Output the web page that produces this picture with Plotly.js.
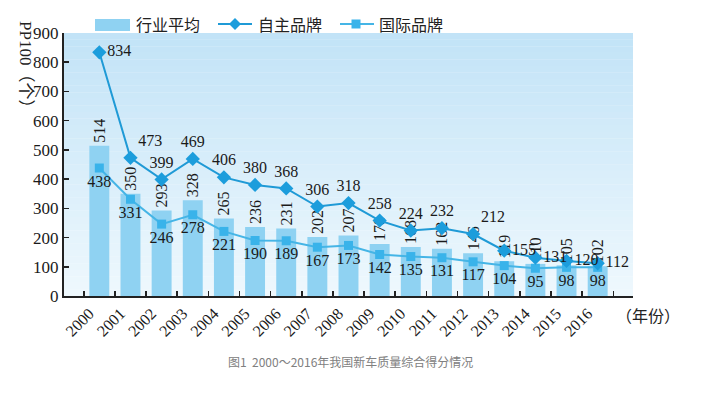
<!DOCTYPE html>
<html>
<head>
<meta charset="utf-8">
<script src="https://cdn.plot.ly/plotly-3.0.1.min.js"></script>
<style>html,body{margin:0;padding:0;background:#fff;}#chart{width:705px;height:394px;}</style>
</head>
<body>
<div id="chart"></div>
<script>
// ---- data ----
const years = ['2000','2001','2002','2003','2004','2005','2006','2007','2008','2009','2010','2011','2012','2013','2014','2015','2016'];
const industryAvg = [514,350,293,328,265,236,231,202,207,178,168,162,146,119,110,105,102];
const domesticBrands = [834,473,399,469,406,380,368,306,318,258,224,232,212,155,131,120,112];
const intlBrands = [438,331,246,278,221,190,189,167,173,142,135,131,117,104,95,98,98];
const seriesNames = ['行业平均','自主品牌','国际品牌'];

// ---- styling ----
const W = 705, H = 394;
const L = 64, R = 633, T = 33, B = 296;
const px = x => (x - L) / (R - L);
const py = y => (B - y) / (B - T);
const serif = 'Liberation Serif, Times New Roman, Noto Sans CJK SC, serif';
const cjk = 'Noto Sans CJK SC, sans-serif';
const barColor = '#8fd2f2';
const domColor = '#1f9ad6';
const intlColor = '#45b5e6';

const domPos = domesticBrands.map((v, i) => {
  if (i === 0) return 'middle right';
  if (i === 1 || i === 12) return 'top right';
  if (i >= 13) return 'middle right';
  return 'top center';
});

const traces = [
  {
    type: 'bar', x: years, y: industryAvg, name: seriesNames[0],
    marker: {color: barColor},
    width: 0.64,
    text: industryAvg.map(String), textposition: 'outside', textangle: -90,
    constraintext: 'none', cliponaxis: false,
    textfont: {family: serif, size: 16, color: '#1a1a1a'},
    showlegend: false, hoverinfo: 'x+y'
  },
  {
    type: 'scatter', mode: 'lines+markers+text', x: years, y: intlBrands, name: seriesNames[2],
    line: {color: intlColor, width: 2},
    marker: {symbol: 'square', size: 9, color: '#39b3ea'},
    text: intlBrands.map(String), textposition: 'bottom center', cliponaxis: false,
    textfont: {family: serif, size: 16, color: '#1a1a1a'},
    showlegend: false
  },
  {
    type: 'scatter', mode: 'lines+markers+text', x: years, y: domesticBrands, name: seriesNames[1],
    line: {color: domColor, width: 2},
    marker: {symbol: 'diamond', size: 11, color: '#1c9ddc'},
    text: domesticBrands.map(String), textposition: domPos, cliponaxis: false,
    textfont: {family: serif, size: 16, color: '#1a1a1a'},
    showlegend: false
  }
];

// gradient background bands
const shapes = [];
const N = 40;
const c0 = [194, 227, 247], c1 = [238, 248, 253];
for (let i = 0; i < N; i++) {
  const t = i / (N - 1);
  const c = c0.map((v, k) => Math.round(v + (c1[k] - v) * t));
  shapes.push({
    type: 'rect', xref: 'paper', yref: 'paper', layer: 'below',
    x0: 0, x1: 1, y1: 1 - i / N, y0: 1 - (i + 1) / N - 0.001,
    fillcolor: `rgb(${c[0]},${c[1]},${c[2]})`, line: {width: 0}
  });
}
// legend swatches
shapes.push({type: 'rect', xref: 'paper', yref: 'paper', x0: px(95), x1: px(130), y0: py(31), y1: py(19),
  fillcolor: barColor, line: {width: 0}});
shapes.push({type: 'line', xref: 'paper', yref: 'paper', x0: px(218), x1: px(252), y0: py(24), y1: py(24),
  line: {color: domColor, width: 2}});
shapes.push({type: 'path', xref: 'paper', yref: 'paper', xsizemode: 'pixel', ysizemode: 'pixel',
  xanchor: px(235), yanchor: py(24), path: 'M0,6 L6,0 L0,-6 L-6,0 Z', fillcolor: '#1c9ddc', line: {width: 0}});
shapes.push({type: 'line', xref: 'paper', yref: 'paper', x0: px(340), x1: px(374), y0: py(24), y1: py(24),
  line: {color: intlColor, width: 2}});
shapes.push({type: 'path', xref: 'paper', yref: 'paper', xsizemode: 'pixel', ysizemode: 'pixel',
  xanchor: px(356), yanchor: py(24), path: 'M-4.5,-4.5 L4.5,-4.5 L4.5,4.5 L-4.5,4.5 Z', fillcolor: '#39b3ea', line: {width: 0}});

const annotations = [
  {text: seriesNames[0], x: px(134), y: py(24), xanchor: 'left', yanchor: 'middle'},
  {text: seriesNames[1], x: px(256), y: py(24), xanchor: 'left', yanchor: 'middle'},
  {text: seriesNames[2], x: px(377), y: py(24), xanchor: 'left', yanchor: 'middle'}
].map(a => Object.assign({xref: 'paper', yref: 'paper', showarrow: false, font: {family: cjk, size: 16, color: '#222'}}, a));

annotations.push({xref: 'paper', yref: 'paper', showarrow: false, text: 'PP100（个）', textangle: 90,
  x: px(26), y: py(68), xanchor: 'center', yanchor: 'middle', font: {family: serif, size: 17, color: '#222'}});
annotations.push({xref: 'paper', yref: 'paper', showarrow: false, text: '（年份）',
  x: px(614), y: py(315), xanchor: 'left', yanchor: 'middle', font: {family: cjk, size: 16, color: '#222'}});
annotations.push({xref: 'paper', yref: 'paper', showarrow: false, text: '图1  2000～2016年我国新车质量综合得分情况',
  x: px(350), y: py(361), xanchor: 'center', yanchor: 'middle', font: {family: cjk, size: 12, color: '#808080'}});

const layout = {
  width: W, height: H,
  margin: {l: L, r: W - R, t: T, b: H - B, pad: 0},
  paper_bgcolor: '#ffffff', plot_bgcolor: 'rgba(0,0,0,0)',
  showlegend: false,
  xaxis: {
    type: 'category', tickangle: -45, showgrid: false, zeroline: false,
    showline: true, linecolor: '#222', linewidth: 2,
    ticks: 'inside', tickson: 'boundaries', ticklen: 5, tickcolor: '#222', tickwidth: 1.5,
    ticklabelshift: -10,
    tickfont: {family: serif, size: 16, color: '#1a1a1a'}
  },
  yaxis: {
    range: [0, 900], dtick: 100, showgrid: false, zeroline: false,
    showline: true, linecolor: '#222', linewidth: 2,
    ticks: 'inside', ticklen: 5, tickcolor: '#222', tickwidth: 1.5,
    tickfont: {family: serif, size: 17, color: '#1a1a1a'}
  },
  shapes: shapes,
  annotations: annotations
};

Plotly.newPlot('chart', traces, layout, {displayModeBar: false, staticPlot: true});
</script>
</body>
</html>
